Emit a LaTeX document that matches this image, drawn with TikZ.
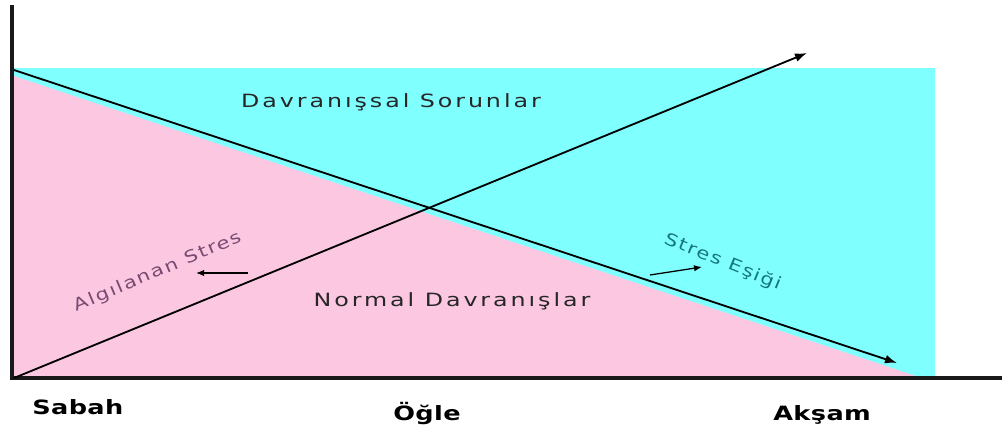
\documentclass[tikz,border=0pt]{standalone}
\usepackage{fontspec}
\setmainfont{DejaVu Sans}
\newfontfamily\fonteespacada[FakeStretch=1.3, LetterSpace=16]{DejaVu Sans}
\newfontfamily\fonteinclinada[FakeStretch=1.25, LetterSpace=10]{DejaVu Sans}
\newfontfamily\fontetempo[FakeStretch=1.3, LetterSpace=2]{DejaVu Sans Bold}
\usetikzlibrary{arrows.meta}
\definecolor{corciano}{RGB}{128,255,255}
\definecolor{corrosa}{RGB}{252,200,225}
\definecolor{corroxo}{RGB}{120,75,115}
\definecolor{corverde}{RGB}{20,120,125}

\begin{document}
\begin{tikzpicture}[
  x=0.025cm, y=-0.025cm,
  rotulo/.style={font=\fonteespacada\fontsize{13}{15}\selectfont, text=black!85},
  inclinado/.style={font=\fonteinclinada\fontsize{12}{14}\selectfont},
  tempo/.style={font=\fontetempo\fontsize{14}{16}\selectfont, anchor=base west, inner sep=0pt},
  eixo/.style={line width=2.4pt, black!90},
  seta/.style={-{Latex[length=3mm,width=2.2mm]}, line width=1.3pt},
  setinha/.style={-{Latex[length=2mm,width=1.6mm]}, line width=0.9pt}
]
  \useasboundingbox (0,0) rectangle (1002,427);
  % regioes
  \fill[corciano] (14,68) rectangle (935,378);
  \fill[corrosa] (14,76) -- (922,378) -- (14,378) -- cycle;

  % eixos
  \coordinate (origem) at (12,378);
  \coordinate (topo) at (12,5);
  \coordinate (fim) at (1002,378);
  \draw[eixo] (topo) -- (origem) -- (fim);

  % linhas
  \coordinate (limiar0) at (14,70);
  \coordinate (limiar1) at (897,363);
  \coordinate (stres0) at (14,378);
  \coordinate (stres1) at (807,53);
  \draw[seta] (limiar0) -- (limiar1);
  \draw[seta] (stres0) -- (stres1);

  % textos
  \node[rotulo] (sorunlar) at (391,102) {Davranışsal Sorunlar};
  \node[rotulo] (normal) at (452,301) {Normal Davranışlar};
  \node[inclinado, text=corroxo, rotate=23] (algilanan) at (158,272) {Algılanan Stres};
  \node[inclinado, text=corverde, rotate=-22] (esik) at (723,262) {Stres Eşiği};

  % setas pequenas
  \coordinate (a0) at (248,273);
  \coordinate (a1) at (196,273);
  \draw[setinha] (a0) -- (a1);
  \coordinate (e0) at (650,275);
  \coordinate (e1) at (702,267);
  \draw[setinha] (e0) -- (e1);

  % tempo
  \node[tempo] (sabah) at (32,414) {Sabah};
  \node[tempo] (ogle) at (393,420) {Öğle};
  \node[tempo] (aksam) at (773,420) {Akşam};
\end{tikzpicture}
\end{document}
